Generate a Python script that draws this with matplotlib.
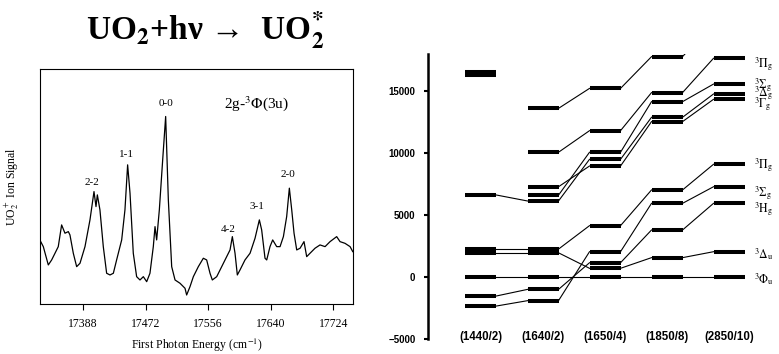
import matplotlib.pyplot as plt

plt.rcParams['mathtext.fontset'] = 'stix'
serif = ['Liberation Serif', 'DejaVu Serif']
sans = ['Liberation Sans', 'DejaVu Sans']

# left panel: REMPI spectrum
energy = [17331, 17334.5, 17341.2, 17345.7, 17350.2, 17354.6, 17359.1, 17363.6, 17368.1, 17370.3,
          17374.8, 17379.3, 17383.8, 17390.5, 17397.2, 17402.6, 17405.3, 17407.1, 17410.6, 17415.1,
          17419.6, 17424.1, 17428.6, 17433.0, 17439.8, 17444.2, 17447.8, 17451.0, 17455.4, 17459.9,
          17464.4, 17468.9, 17473.4, 17477.8, 17482.3, 17484.6, 17486.8, 17490.4, 17494.9, 17498.9,
          17502.5, 17507.0, 17511.5, 17518.2, 17524.9, 17527.1, 17531.6, 17536.1, 17542.8, 17549.5,
          17554.0, 17558.5, 17561.6, 17567.5, 17574.2, 17580.9, 17585.4, 17588.5, 17592.1, 17595.2,
          17598.8, 17605.5, 17612.3, 17619.0, 17624.8, 17627.9, 17632.4, 17634.7, 17639.1, 17642.7,
          17648.1, 17652.6, 17657.1, 17661.5, 17665.1, 17668.3, 17671.4, 17675.0, 17679.5, 17684.8,
          17688.4, 17692.9, 17699.6, 17706.3, 17713.1, 17719.8, 17728.7, 17733.2, 17739.9, 17746.7,
          17750.3]
signal = [62.6, 57.6, 39.3, 44.3, 51.0, 57.6, 79.3, 71.0, 72.6, 69.3,
          51.0, 37.6, 41.0, 57.6, 84.3, 112.6, 97.6, 109.3, 94.3, 57.6,
          31.0, 29.3, 31.0, 44.3, 64.3, 94.3, 139.3, 111.0, 51.0, 27.6,
          24.3, 27.6, 22.6, 31.0, 57.6, 77.6, 64.3, 94.3, 144.3, 187.6,
          104.3, 37.6, 24.3, 21.0, 16.0, 9.3, 17.6, 27.6, 37.6, 46.0,
          44.3, 31.0, 24.3, 27.6, 37.6, 47.6, 54.3, 67.6, 51.0, 29.3,
          34.3, 44.3, 51.0, 66.0, 84.3, 74.3, 46.0, 44.3, 57.6, 64.3,
          57.6, 57.6, 67.6, 87.6, 116.0, 94.3, 71.0, 54.3, 56.0, 62.6,
          47.6, 51.0, 56.0, 59.3, 57.6, 62.6, 67.6, 62.6, 60.9, 57.6,
          52.6]
energy_ticks = [17388, 17472, 17556, 17640, 17724]
peak_names = ['2-2', '1-1', '0-0', '4-2', '3-1', '2-0']
peak_energy = [17399.5, 17446.5, 17499, 17582.3, 17621.3, 17663.7]
peak_height = [121.6, 149.3, 201, 74.3, 97.6, 129.3]

# right panel: correlation of levels across calculations
columns = ['(1440/2)', '(1640/2)', '(1650/4)', '(1850/8)', '(2850/10)']
phi_u = [0, 0, 0, 0, 0]
delta_u = [1950, 1950, 700, 1560, 2040]
h_g = [-1530, -1000, 1150, 3790, 5940]
sigma_g_low = [-2340, -1910, 2040, 5940, 7280]
pi_g_low = [2250, 2250, 4140, 7020, 9090]
gamma_g = [None, 7280, 8950, 12530, 14330]
delta_g = [6610, 6130, 9490, 12880, 14760]
sigma_g = [None, 6600, 10060, 14140, 15560]
pi_g = [None, 10060, 11800, 14870, 17640]
top_chain = [None, 13600, 15210, 17770, 20500]
lone_levels = [16300, 16550]

chains = [phi_u, delta_u, h_g, sigma_g_low, pi_g_low, gamma_g, delta_g, sigma_g, pi_g, top_chain]
state_labels = [(r'$^3\Phi_\mathrm{u}$', phi_u, -560), (r'$^3\Delta_\mathrm{u}$', delta_u, -530),
                (r'$^3\mathrm{H}_\mathrm{g}$', h_g, -750), (r'$^3\Sigma_\mathrm{g}$', sigma_g_low, -800),
                (r'$^3\Pi_\mathrm{g}$', pi_g_low, -320), (r'$^3\Gamma_\mathrm{g}$', gamma_g, -650),
                (r'$^3\Delta_\mathrm{g}$', delta_g, -230), (r'$^3\Sigma_\mathrm{g}$', sigma_g, -330),
                (r'$^3\Pi_\mathrm{g}$', pi_g, -740)]

fig = plt.figure(figsize=(7.79, 3.54), dpi=100)

fig.text(0.263, 0.915, 'UO$_\\mathbf{2}$+hν →  UO$_\\mathbf{2}^\\mathbf{*}$',
         ha='center', va='center', fontsize=24, fontweight='bold', family=serif)

ax1 = fig.add_axes([0.0513, 0.1404, 0.4022, 0.6646])
ax1.plot(energy, signal, color='black', lw=0.9)
ax1.set_xlim(17330, 17751)
ax1.set_ylim(0, 235)
ax1.set_xticks(energy_ticks)
ax1.set_yticks([])
ax1.tick_params(axis='x', direction='out', length=4, pad=6, labelsize=8.5)
for t in ax1.get_xticklabels():
    t.set_family(serif)
ax1.set_xlabel('First Photon Energy (cm$^{-1}$)', family=serif, fontsize=8.5, labelpad=5)
ax1.set_ylabel('UO$_2^+$ Ion Signal', family=serif, fontsize=8.5, labelpad=14)
for name, xe, yh in zip(peak_names, peak_energy, peak_height):
    ax1.text(xe, yh, name, ha='center', va='center', family=serif, fontsize=8)
ax1.text(17621, 201, '2g-$^3\\Phi$(3u)', ha='center', va='center', family=serif, fontsize=11)

ax2 = fig.add_axes([0.5494, 0.0424, 0.4506, 0.8056])
ax2.set_xlim(-0.855, 4.806)
ax2.set_ylim(-5000, 18000)
for chain in chains:
    for i, e in enumerate(chain):
        if e is not None:
            ax2.plot([i - 0.25, i + 0.25], [e, e], color='black', lw=2.9, solid_capstyle='butt')
        if i + 1 < len(chain) and e is not None and chain[i + 1] is not None:
            ax2.plot([i + 0.25, i + 0.75], [e, chain[i + 1]], color='black', lw=0.8)
for e in lone_levels:
    ax2.plot([-0.25, 0.25], [e, e], color='black', lw=2.9, solid_capstyle='butt')
for text, chain, off in state_labels:
    ax2.text(4.41, chain[-1] + off, text, ha='left', va='baseline', fontsize=8.5)

for s in ['top', 'right', 'bottom']:
    ax2.spines[s].set_visible(False)
ax2.spines['left'].set_linewidth(1.8)
ax2.set_yticks([-5000, 0, 5000, 10000, 15000])
ax2.set_xticks(range(len(columns)), columns)
ax2.tick_params(axis='y', length=3, width=1.5, pad=6, labelsize=7)
ax2.tick_params(axis='x', length=0, pad=-6, labelsize=8.3)
for t in ax2.get_xticklabels() + ax2.get_yticklabels():
    t.set_family(sans)
    t.set_fontweight('bold')

fig.savefig('out.png', dpi=100)
